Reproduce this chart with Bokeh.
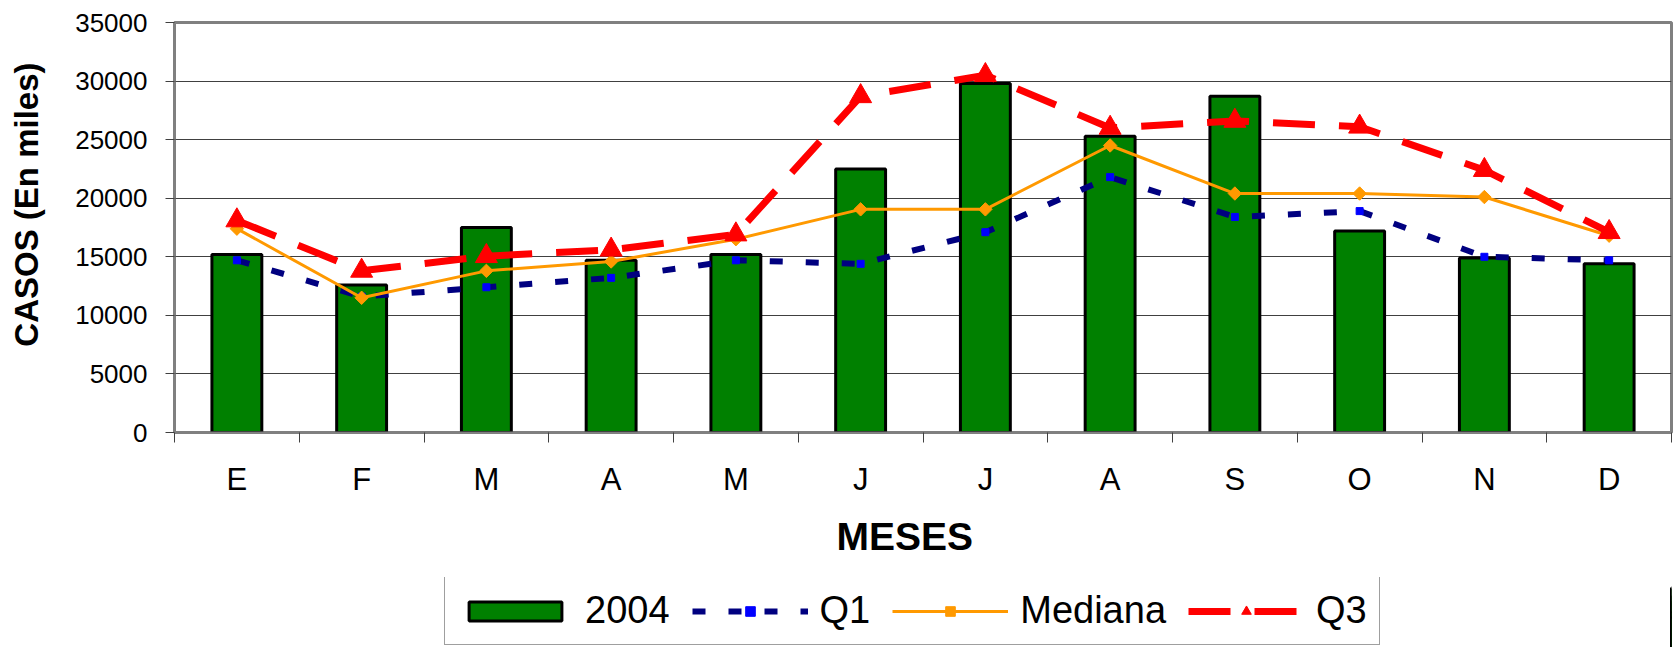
import numpy as np
from bokeh.plotting import figure
from bokeh.layouts import column
from bokeh.models import Range1d, FixedTicker, Legend, LegendItem, Title
from bokeh.embed import file_html
from bokeh.resources import INLINE

# ---- data -------------------------------------------------------------
months = ["E", "F", "M", "A", "M", "J", "J", "A", "S", "O", "N", "D"]
cases_2004 = [15200, 12600, 17500, 14700, 15200, 22500, 29800, 25300, 28700, 17200, 14900, 14400]
q1 = [14700, 11600, 12400, 13200, 14700, 14400, 17100, 21800, 18400, 18900, 15000, 14700]
mediana = [17400, 11500, 13800, 14600, 16500, 19050, 19050, 24500, 20400, 20400, 20100, 16800]
q3 = [18100, 13800, 15050, 15600, 16900, 28700, 30500, 26000, 26600, 26100, 22400, 17100]
y_ticks = [0, 5000, 10000, 15000, 20000, 25000, 30000, 35000]

FONT = "Liberation Sans"
NBSP = "\u00a0"

x = [i + 0.5 for i in range(len(months))]
bounds = list(range(len(months) + 1))

# series styles (shared by the chart and its legend strip)
BAR = dict(fill_color="#008000", line_color="black", line_width=3)
Q1_LINE = dict(line_color="#000080", line_width=6, line_dash="13 23")
Q1_PTS = dict(marker="square", size=7, fill_color="#0000FF", line_color="#0000FF")
MED_LINE = dict(line_color="#FF9900", line_width=3)
MED_PTS = dict(marker="square", angle=np.pi / 4, size=9.5, fill_color="#FF9900",
               line_color="#FF9900")
Q3_LINE = dict(line_color="#FF0000", line_width=7, line_dash="42 24")
Q3_PTS = dict(marker="triangle", size=22, fill_color="#FF0000", line_color="#FF0000")

p = figure(width=1680, height=577, output_backend="svg", toolbar_location=None,
           x_range=Range1d(0, len(months)), y_range=Range1d(0, 35000),
           min_border_left=174, min_border_right=9, min_border_top=22,
           min_border_bottom=145)
p.background_fill_color = "white"
p.border_fill_color = "white"
p.outline_line_color = "#808080"
p.outline_line_width = 3

# ---- axes ----
p.yaxis.ticker = FixedTicker(ticks=y_ticks, minor_ticks=[])
p.yaxis.major_label_text_font = FONT
p.yaxis.major_label_text_font_size = "26px"
p.yaxis.major_label_text_color = "black"
p.yaxis.major_tick_out = 9
p.yaxis.major_tick_in = 0
p.yaxis.minor_tick_out = 0
p.yaxis.minor_tick_in = 0
p.yaxis.major_tick_line_color = "#404040"
p.yaxis.axis_line_color = "#808080"
p.yaxis.axis_line_width = 2
p.yaxis.major_label_standoff = 18
p.yaxis.axis_label = NBSP * 5 + "CASOS (En miles)"
p.yaxis.axis_label_text_font = FONT
p.yaxis.axis_label_text_font_size = "33px"
p.yaxis.axis_label_text_font_style = "bold"
p.yaxis.axis_label_text_color = "black"
p.yaxis.axis_label_standoff = 27

p.xaxis.ticker = FixedTicker(ticks=x, minor_ticks=bounds)
p.xaxis.major_label_overrides = {xi: m for xi, m in zip(x, months)}
p.xaxis.major_label_text_font = FONT
p.xaxis.major_label_text_font_size = "31px"
p.xaxis.major_label_text_color = "black"
p.xaxis.major_tick_out = 0
p.xaxis.major_tick_in = 0
p.xaxis.minor_tick_out = 10
p.xaxis.minor_tick_in = 0
p.xaxis.minor_tick_line_color = "#404040"
p.xaxis.axis_line_color = "#808080"
p.xaxis.axis_line_width = 2
p.xaxis.major_label_standoff = 19

p.xgrid.visible = False
p.ygrid.grid_line_color = "#404040"
p.ygrid.grid_line_width = 1

# ---- glyphs ----
p.vbar(x=x, top=cases_2004, width=0.4, **BAR)
p.line(x, q1, **Q1_LINE)
p.scatter(x, q1, **Q1_PTS)
p.line(x, mediana, **MED_LINE)
p.scatter(x, mediana, **MED_PTS)
p.line(x, q3, **Q3_LINE)
p.scatter(x, q3, **Q3_PTS)

# ---- x title ----
xtitle = Title(text="MESES", align="left", offset=662, standoff=26,
               text_font=FONT, text_font_size="39px", text_font_style="bold",
               text_color="black")
p.add_layout(xtitle, "below")

# ---- legend strip (a second small figure that only holds the legend) ----
# its x range is shifted away from the data so only the legend shows
lg = figure(width=1680, height=70, output_backend="svg", toolbar_location=None,
            x_range=Range1d(-40, -28), y_range=Range1d(0, 35000),
            x_axis_location=None, y_axis_location=None,
            min_border_left=174, min_border_right=9, min_border_top=0,
            min_border_bottom=0)
lg.xgrid.visible = False
lg.ygrid.visible = False
lg.outline_line_color = None
lg.background_fill_color = "white"
lg.border_fill_color = "white"

r_bar = lg.vbar(x=x, top=cases_2004, width=0.4, **BAR)
r_q1l = lg.line(x, q1, **Q1_LINE)
r_q1p = lg.scatter(x, q1, **Q1_PTS)
r_medl = lg.line(x, mediana, **MED_LINE)
r_medp = lg.scatter(x, mediana, **MED_PTS)
r_q3l = lg.line(x, q3, **Q3_LINE)
r_q3p = lg.scatter(x, q3, **Q3_PTS)

legend = Legend(items=[
    LegendItem(label="2004", renderers=[r_bar]),
    LegendItem(label="Q1", renderers=[r_q1l, r_q1p]),
    LegendItem(label="Mediana", renderers=[r_medl, r_medp]),
    LegendItem(label="Q3", renderers=[r_q3l, r_q3p]),
], orientation="horizontal", location=(270, 2))
legend.label_text_font = FONT
legend.label_text_font_size = "38px"
legend.label_text_color = "black"
legend.glyph_width = 116
legend.glyph_height = 24
legend.label_standoff = 12
legend.spacing = 22
legend.padding = 12
legend.margin = 0
legend.border_line_color = "#404040"
legend.border_line_width = 1.5
legend.background_fill_color = "white"
legend.background_fill_alpha = 1
lg.add_layout(legend)

layout = column(p, lg, spacing=0)
open("out.html", "w").write(file_html(layout, INLINE))
